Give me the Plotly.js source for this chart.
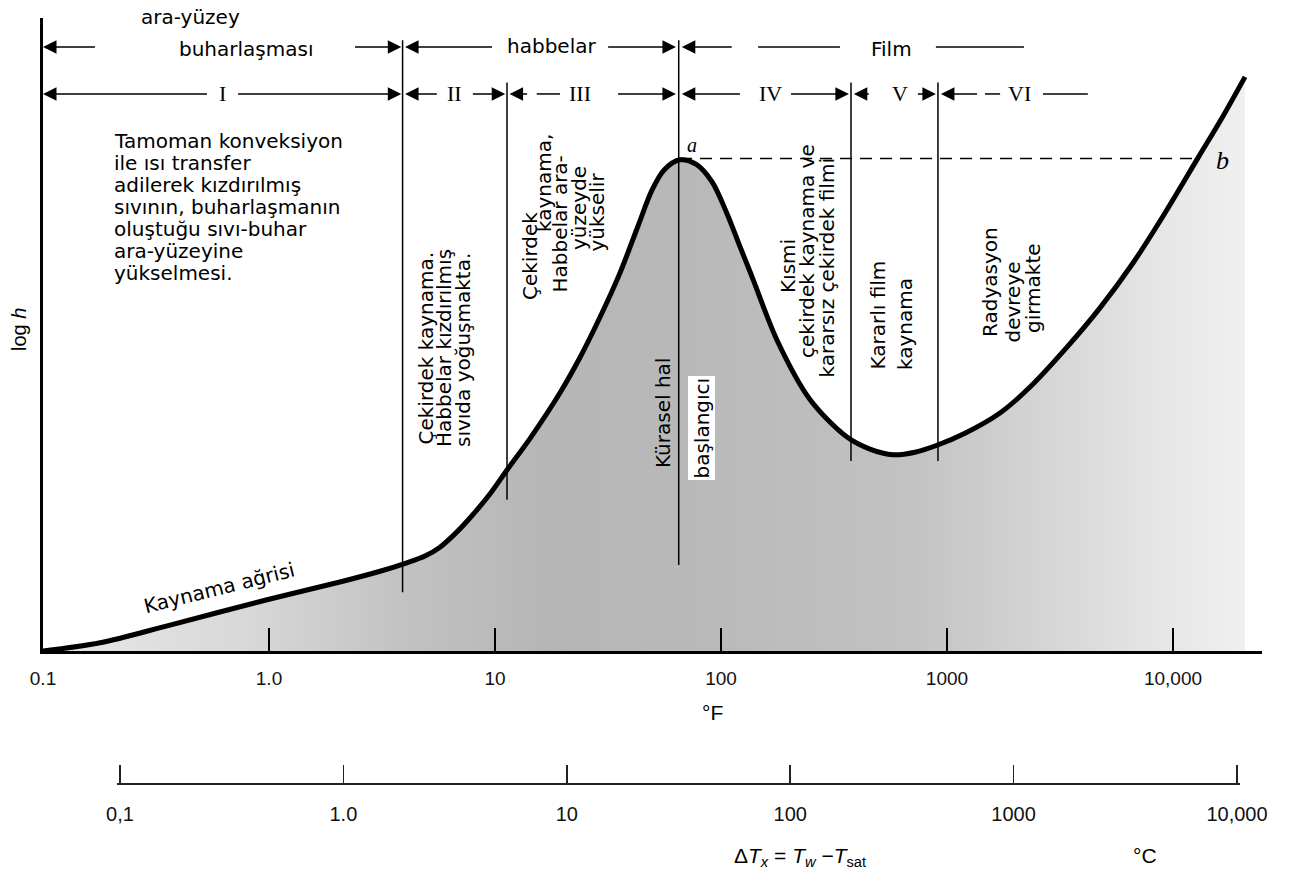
<!DOCTYPE html>
<html>
<head>
<meta charset="utf-8">
<script src="https://cdn.plot.ly/plotly-3.0.1.min.js"></script>
<style>html,body{margin:0;padding:0;background:#fff;}</style>
</head>
<body>
<div id="chart" style="width:1293px;height:880px;"></div>
<script>
// ---- data ----
// boiling curve: wall superheat in degF vs log h (arbitrary units)
const deltaT_F = [0.1, 0.179, 0.365, 0.98, 2.06, 3.10, 4.04, 4.90, 5.71, 6.65, 7.52, 9.5, 11.3, 14.3, 19.4, 23.8, 29.2, 35.7, 42.9, 49.5, 56.0, 65.9, 77.5, 91.3, 106, 121, 139, 177, 248, 361, 456, 577, 722, 903, 1201, 1716, 2330, 3396, 4753, 6653, 9218, 12900, 16470, 20830];
const logH     = [0, 0.13, 0.41, 0.81, 1.09, 1.26, 1.39, 1.50, 1.64, 1.85, 2.05, 2.48, 2.86, 3.36, 4.08, 4.64, 5.28, 5.97, 6.71, 7.28, 7.60, 7.76, 7.69, 7.41, 6.92, 6.40, 5.86, 4.91, 3.97, 3.38, 3.19, 3.10, 3.14, 3.25, 3.44, 3.76, 4.17, 4.80, 5.42, 6.13, 6.92, 7.79, 8.42, 9.07];

// region boundaries (degF) and vertical extent of their lines (log h units)
const boundaryF      = [3.9, 11.3, 65, 376, 912];
const boundaryTop    = [9.65, 8.98, 9.65, 8.98, 8.98];
const boundaryBottom = [0.93, 2.39, 1.36, 3.0, 3.0];

// critical point a and point b
const peakF = 65.9, pointBF = 12900, peakLogH = 7.78;

// axis ticks
const tickValsF = [0.1, 1, 10, 100, 1000, 10000];
const tickTextF = ['0.1', '1.0', '10', '100', '1000', '10,000'];
const tickValsC = [0.1, 1, 10, 100, 1000, 10000];
const tickTextC = ['0,1', '1.0', '10', '100', '1000', '10,000'];

// regime numerals
const regimeNames = ['I', 'II', 'III', 'IV', 'V', 'VI'];
const regimeLabelF = [0.62, 6.65, 23.8, 165, 620, 2100];

// bracket arrows: [tailF, headF, row]
const bracketRows = [9.54, 8.80];
const arrows = [
  [0.175, 0.1, 0], [2.33, 3.85, 0], [10.0, 4.0, 0], [30.7, 63.2, 0], [115, 67.1, 0],
  [0.548, 0.1, 1], [0.708, 3.85, 1], [5.7, 4.0, 1], [7.74, 11.1, 1], [14.3, 11.6, 1],
  [34, 63.2, 1], [125, 67.1, 1], [198, 368, 1], [465, 387, 1], [721, 893, 1], [1400, 940, 1]
];
// plain bracket dashes: [fromF, toF, row]
const dashes = [[146, 336, 0], [893, 2190, 0], [15.3, 19.4, 1], [1472, 1718, 1], [2660, 4200, 1]];

// ---- layout geometry ----
const W = 1293, H = 880;
const M = {l: 43, r: 31, t: 18, b: 80};
const plotW = W - M.l - M.r, plotH = H - M.t - M.b;
const px = x => (x - M.l) / plotW;
const py = y => (H - M.b - y) / plotH;

const hand = 'DejaVu Sans, Noto Sans, sans-serif';
const traces = [];

traces.push({
  x: deltaT_F, y: logH, type: 'scatter', mode: 'lines',
  line: {color: '#000', width: 5, shape: 'spline', smoothing: 0.9},
  fill: 'tozeroy',
  fillgradient: {type: 'horizontal', colorscale: [
    [0, '#e8e8e8'], [0.17, '#d8d8d8'], [0.3, '#c2c2c2'], [0.42, '#b6b6b6'],
    [0.55, '#b9b9b9'], [0.72, '#c2c2c2'], [0.84, '#d6d6d6'], [0.93, '#e6e6e6'], [1, '#f0f0f0']]},
  hoverinfo: 'skip'
});

boundaryF.forEach((b, i) => {
  traces.push({x: [b, b], y: [boundaryBottom[i], boundaryTop[i]], type: 'scatter', mode: 'lines',
    line: {color: '#000', width: 1.5}, hoverinfo: 'skip'});
});

dashes.forEach(([a, b, r]) => {
  traces.push({x: [a, b], y: [bracketRows[r], bracketRows[r]], type: 'scatter', mode: 'lines',
    line: {color: '#000', width: 1.5}, hoverinfo: 'skip'});
});

traces.push({x: [peakF, pointBF], y: [peakLogH, peakLogH], type: 'scatter', mode: 'lines',
  line: {color: '#000', width: 1.5, dash: '12px,8px'}, hoverinfo: 'skip'});

traces.push({x: tickValsC, y: tickValsC.map(() => 0), xaxis: 'x2', yaxis: 'y2', type: 'scatter',
  mode: 'markers', marker: {opacity: 0}, hoverinfo: 'skip'});

const ann = [];
arrows.forEach(([t, h, r]) => {
  ann.push({x: Math.log10(h), y: bracketRows[r], ax: Math.log10(t), ay: bracketRows[r],
    xref: 'x', yref: 'y', axref: 'x', ayref: 'y', text: ' ', showarrow: true,
    arrowhead: 2, arrowsize: 1.8, arrowwidth: 1.5, arrowcolor: '#000',
    standoff: 0, startstandoff: 0});
});
regimeNames.forEach((n, i) => {
  ann.push({x: Math.log10(regimeLabelF[i]), y: bracketRows[1], xref: 'x', yref: 'y', text: n,
    showarrow: false, font: {family: 'Liberation Serif, serif', size: 22, color: '#000'}});
});

function txt(text, x, y, opts) {
  opts = opts || {};
  ann.push(Object.assign({x: px(x), y: py(y), xref: 'paper', yref: 'paper', text: text,
    showarrow: false, xanchor: 'center', yanchor: 'middle',
    font: {family: hand, size: 20, color: '#000'}}, opts));
}
function vtxt(text, x, yBottom, opts) {
  txt(text, x, yBottom, Object.assign({textangle: -90, yanchor: 'bottom'}, opts || {}));
}

// top labels
txt('ara-yüzey', 190, 17);
txt('buharlaşması', 246, 49);
txt('habbelar', 551, 46);
txt('Film', 891, 49);

// left block
const blockLines = ['Tamoman konveksiyon', 'ile ısı transfer', 'adilerek kızdırılmış',
  'sıvının, buharlaşmanın', 'oluştuğu sıvı-buhar', 'ara-yüzeyine', 'yükselmesi.'];
const blockY = [141, 163, 185, 207, 229, 251, 273];
blockLines.forEach((l, i) => txt(l, 112, blockY[i], {xanchor: 'left'}));

txt('Kaynama ağrisi', 219, 588, {textangle: -14});
txt('<i>a</i>', 692, 145, {font: {family: 'Liberation Serif, serif', size: 20, color: '#000'}});
txt('<i>b</i>', 1222, 160, {font: {family: 'Liberation Serif, serif', size: 26, color: '#000'}});

// region II
vtxt('Çekirdek kaynama.', 425, 447);
vtxt('Habbelar kızdırılmış', 444, 449);
vtxt('sıvıda yoğuşmakta.', 463, 449);
// region III
vtxt('Çekirdek', 530, 302);
vtxt('kaynama,', 544, 234);
vtxt('Habbelar ara-', 559, 295);
vtxt('yüzeyde', 579, 252);
vtxt('yükselir', 597, 254);
vtxt('Kürasel hal', 663, 470);
vtxt('başlangıcı', 701, 480, {bgcolor: '#fff'});
// region IV
vtxt('Kısmi', 788, 295);
vtxt('çekirdek kaynama ve', 807, 360);
vtxt('kararsız çekirdek filmi', 826, 380);
// region V
vtxt('Kararlı film', 877, 372);
vtxt('kaynama', 905, 372);
// region VI
vtxt('Radyasyon', 990, 339);
vtxt('devreye', 1012, 345);
vtxt('girmakte', 1033, 335);

// axis titles
txt('log <i>h</i>', 19, 330, {textangle: -90, font: {family: 'Liberation Sans, sans-serif', size: 20, color: '#000'}});
txt('°F', 712, 712, {font: {family: 'Liberation Sans, sans-serif', size: 21, color: '#000'}});
txt('Δ<i>T</i><sub><i>x</i></sub> = <i>T</i><sub><i>w</i></sub> −<i>T</i><sub>sat</sub>', 800, 857,
  {font: {family: 'Liberation Sans Narrow, Liberation Sans, sans-serif', size: 21, color: '#000'}});
txt('°C', 1145, 855, {font: {family: 'Liberation Sans Narrow, Liberation Sans, sans-serif', size: 21, color: '#000'}});

const cPad = 0.012;   // tiny margin so the end ticks of the degC scale are kept
const cDec = (1237 - 120) / 5;
const layout = {
  width: W, height: H, margin: M, showlegend: false,
  paper_bgcolor: '#fff', plot_bgcolor: 'rgba(0,0,0,0)',
  xaxis: {type: 'log', range: [-1, -1 + plotW / 226], domain: [0, 1], anchor: 'y',
    showgrid: false, zeroline: false, showline: true, linecolor: '#000', linewidth: 3,
    ticks: 'inside', ticklen: 23, tickwidth: 2, tickcolor: '#000',
    tickvals: tickValsF, ticktext: tickTextF, ticklabelstandoff: 8,
    tickfont: {family: 'Liberation Sans, sans-serif', size: 19, color: '#111'}},
  yaxis: {range: [0, 10], domain: [py(651), py(M.t)], anchor: 'x',
    showgrid: false, zeroline: false, showline: true, linecolor: '#000', linewidth: 3,
    showticklabels: false, ticks: ''},
  xaxis2: {type: 'log', range: [-1 - cPad, 4 + cPad],
    domain: [px(120 - cPad * cDec), px(1237 + cPad * cDec)], anchor: 'y2',
    showgrid: false, zeroline: false, showline: true, linecolor: '#222', linewidth: 2,
    ticks: 'inside', ticklen: 18, tickwidth: 1.5, tickcolor: '#222',
    tickvals: tickValsC, ticktext: tickTextC, ticklabelstandoff: 12,
    tickfont: {family: 'Liberation Sans Narrow, Liberation Sans, sans-serif', size: 20, color: '#111'}},
  yaxis2: {domain: [py(783), py(740)], anchor: 'x2', visible: false, range: [0, 1]},
  annotations: ann
};

Plotly.newPlot('chart', traces, layout, {staticPlot: true, displayModeBar: false});
</script>
</body>
</html>
